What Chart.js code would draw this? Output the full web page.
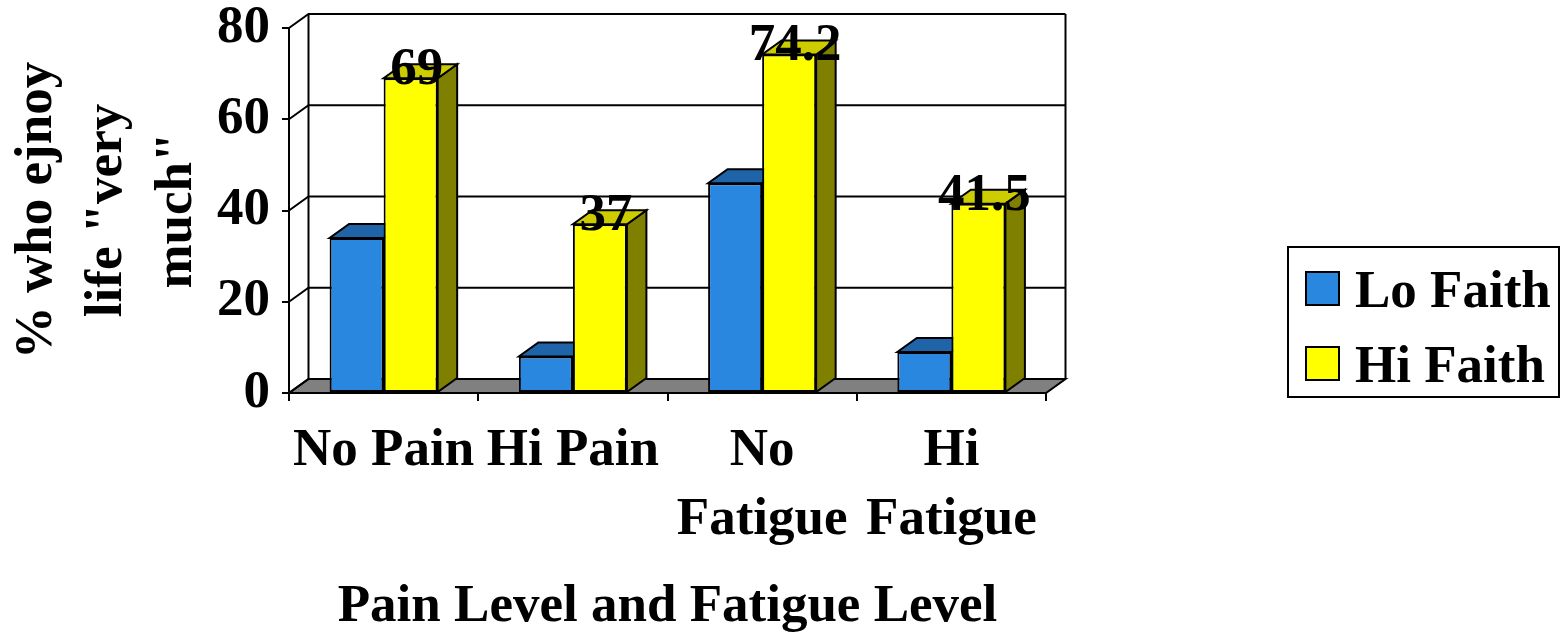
<!DOCTYPE html>
<html>
<head>
<meta charset="utf-8">
<script src="https://cdn.jsdelivr.net/npm/chart.js@4.4.1/dist/chart.umd.min.js"></script>
<style>
  html, body { margin: 0; padding: 0; background: #ffffff; }
  #wrap { width: 1561px; height: 634px; }
</style>
</head>
<body>
<div id="wrap"><canvas id="chart" width="1561" height="634"></canvas></div>
<script>
// Categories (wrapped tick labels) and series values
const categories = [['No Pain'], ['Hi Pain'], ['No', 'Fatigue'], ['Hi', 'Fatigue']];
const seriesNames = ['Lo Faith', 'Hi Faith'];
const loFaith = [34, 8, 46, 9];
const hiFaith = [69, 37, 74.2, 41.5];
const yTicks = [0, 20, 40, 60, 80];
const yTitleLines = ['% who ejnoy', 'life "very', 'much"'];
const xTitle = 'Pain Level and Fatigue Level';

// Styling
const FAMILY = '"Liberation Serif", "Times New Roman", serif';
const FONT_SIZE = 53;
const frontColors = ['#2A87E0', '#FFFF00'];
const topColors = ['#1F64A8', '#CCCC00'];
const sideColors = ['#1A5590', '#808000'];
const depth = { dx: 19.5, dy: -14 };

function fillStrokePoly(ctx, pts, fill) {
  ctx.beginPath();
  ctx.moveTo(pts[0][0], pts[0][1]);
  for (let i = 1; i < pts.length; i++) ctx.lineTo(pts[i][0], pts[i][1]);
  ctx.closePath();
  ctx.fillStyle = fill;
  ctx.fill();
  ctx.stroke();
}

// Draws the walls, floor, 3D bar faces, value labels and the legend box
const box3d = {
  id: 'box3d',
  beforeDraw(chart) {
    const { ctx, chartArea: a, scales: { y } } = chart;
    const { dx, dy } = depth;
    const y0 = y.getPixelForValue(y.min);
    const yTop = y.getPixelForValue(y.max);
    ctx.save();
    ctx.lineWidth = 2;
    ctx.strokeStyle = '#000';
    ctx.lineJoin = 'miter';
    // floor
    fillStrokePoly(ctx, [[a.left, y0], [a.right, y0], [a.right + dx, y0 + dy], [a.left + dx, y0 + dy]], '#808080');
    // left wall diagonals and back-wall gridlines
    yTicks.forEach(v => {
      const py = y.getPixelForValue(v);
      ctx.beginPath();
      ctx.moveTo(a.left, py);
      ctx.lineTo(a.left + dx, py + dy);
      ctx.lineTo(a.right + dx, py + dy);
      ctx.stroke();
    });
    // back wall edges
    ctx.beginPath();
    ctx.moveTo(a.left + dx, yTop + dy);
    ctx.lineTo(a.left + dx, y0 + dy);
    ctx.moveTo(a.right + dx, yTop + dy);
    ctx.lineTo(a.right + dx, y0 + dy);
    ctx.stroke();
    ctx.restore();
  },
  beforeDatasetsDraw(chart) {
    const { ctx } = chart;
    const { dx, dy } = depth;
    ctx.save();
    ctx.lineWidth = 2;
    ctx.strokeStyle = '#000';
    chart.data.datasets.forEach((ds, i) => {
      const meta = chart.getDatasetMeta(i);
      meta.data.forEach(bar => {
        const { x, y, base, width } = bar.getProps(['x', 'y', 'base', 'width'], true);
        const l = x - width / 2, r = x + width / 2;
        fillStrokePoly(ctx, [[r, y], [r + dx, y + dy], [r + dx, base + dy], [r, base]], sideColors[i]);
        fillStrokePoly(ctx, [[l, y], [r, y], [r + dx, y + dy], [l + dx, y + dy]], topColors[i]);
      });
    });
    ctx.restore();
  },
  afterDatasetsDraw(chart) {
    const { ctx } = chart;
    const meta = chart.getDatasetMeta(1);
    ctx.save();
    ctx.font = 'bold ' + FONT_SIZE + 'px ' + FAMILY;
    ctx.fillStyle = '#000';
    ctx.textAlign = 'center';
    ctx.textBaseline = 'alphabetic';
    meta.data.forEach((bar, j) => {
      ctx.fillText(String(hiFaith[j]), bar.x + 6, bar.y + 6);
    });
    ctx.restore();
  },
  afterDraw(chart) {
    const { ctx } = chart;
    ctx.save();
    ctx.lineWidth = 2;
    ctx.strokeStyle = '#000';
    ctx.strokeRect(1288, 247, 271, 150);
    ctx.font = 'bold ' + FONT_SIZE + 'px ' + FAMILY;
    ctx.textAlign = 'left';
    ctx.textBaseline = 'alphabetic';
    seriesNames.forEach((name, i) => {
      const top = 272 + i * 75;
      ctx.fillStyle = frontColors[i];
      ctx.fillRect(1306, top, 33, 33);
      ctx.strokeRect(1306, top, 33, 33);
      ctx.fillStyle = '#000';
      ctx.fillText(name, 1355, top + 35);
    });
    ctx.restore();
  }
};

const font = (extra) => Object.assign({ family: FAMILY, size: FONT_SIZE, weight: 'bold' }, extra || {});

new Chart(document.getElementById('chart'), {
  type: 'bar',
  data: {
    labels: categories,
    datasets: [
      { label: seriesNames[0], data: loFaith, backgroundColor: frontColors[0] },
      { label: seriesNames[1], data: hiFaith, backgroundColor: frontColors[1] }
    ].map(d => Object.assign(d, {
      borderColor: '#000',
      borderWidth: 2,
      borderSkipped: false,
      categoryPercentage: 0.571,
      barPercentage: 1
    }))
  },
  options: {
    responsive: false,
    animation: false,
    devicePixelRatio: 1,
    layout: { padding: { top: 28, right: 515, left: 0, bottom: 0 } },
    plugins: {
      legend: { display: false },
      tooltip: { enabled: false }
    },
    scales: {
      x: {
        ticks: { color: '#000', font: font({ lineHeight: 69 / FONT_SIZE }), padding: 16, maxRotation: 0, minRotation: 0, autoSkip: false },
        grid: { display: true, drawOnChartArea: false, drawTicks: true, tickLength: 8, color: '#000', lineWidth: 2, offset: true },
        border: { display: true, color: '#000', width: 2 },
        title: { display: true, text: xTitle, color: '#000', font: font({ lineHeight: 1 }), padding: { top: 0, bottom: 0 } },
        afterFit(s) { s.height = 634 - 393; s.paddingLeft = 0; s.paddingRight = 0; }
      },
      y: {
        min: 0,
        max: 80,
        ticks: { stepSize: 20, color: '#000', font: font({ lineHeight: 1 }), padding: 12 },
        grid: { display: true, drawOnChartArea: false, drawTicks: true, tickLength: 7, color: '#000', lineWidth: 2 },
        border: { display: true, color: '#000', width: 2 },
        title: { display: true, text: yTitleLines, color: '#000', font: font({ lineHeight: 70 / FONT_SIZE }), padding: { top: 2, bottom: 0 } },
        afterFit(s) { s.width = 289; s.paddingTop = 0; s.paddingBottom = 0; }
      }
    }
  },
  plugins: [box3d]
});
</script>
</body>
</html>
